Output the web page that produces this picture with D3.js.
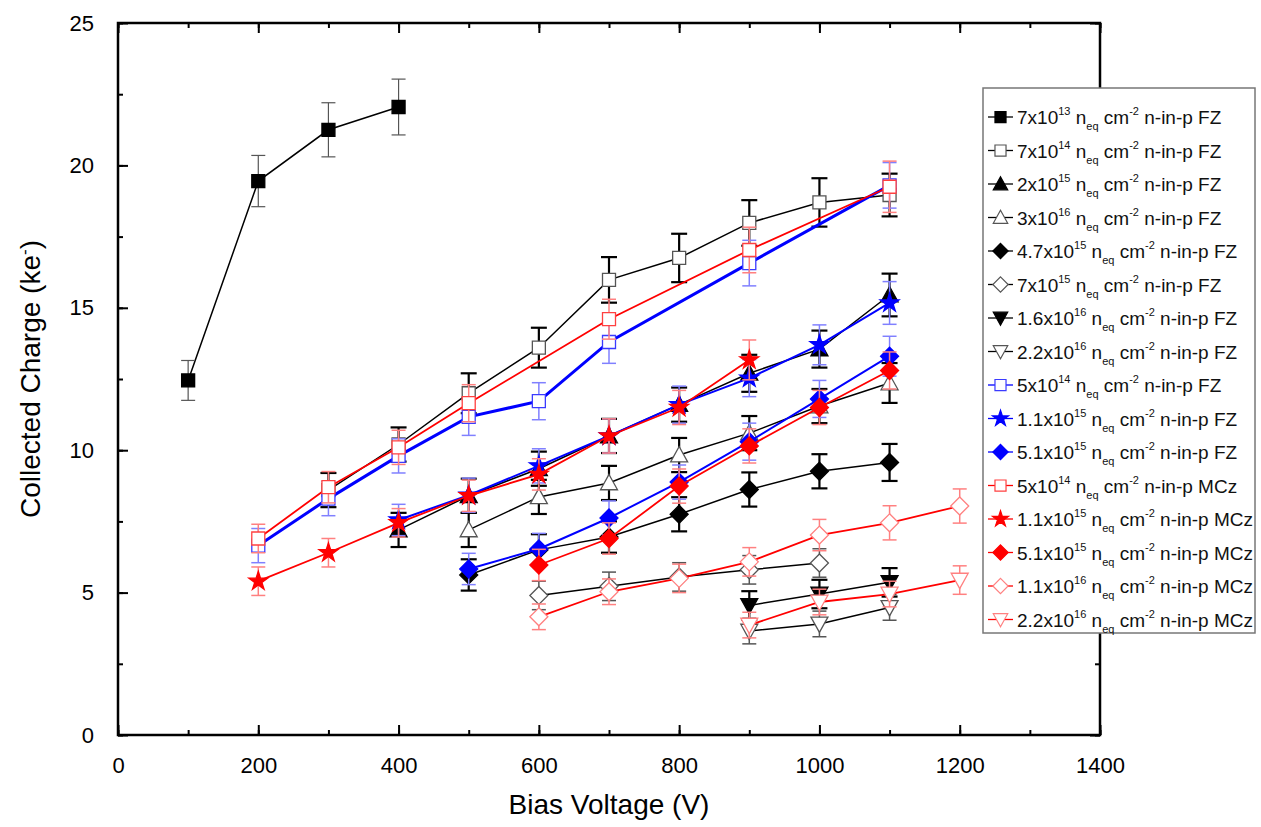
<!DOCTYPE html>
<html>
<head>
<meta charset="utf-8">
<script src="https://cdn.jsdelivr.net/npm/d3@7"></script>
<style>
  body { margin: 0; background: #fff; }
  text { font-family: "Liberation Sans", Arial, sans-serif; }
</style>
</head>
<body>
<div id="chart"></div>
<script>
var svgWidth = 1261;
var svgHeight = 827;

var margin = { top: 23, right: 161, bottom: 92, left: 118 };
var width = svgWidth - margin.left - margin.right;
var height = svgHeight - margin.top - margin.bottom;

// ---- data (bias voltage V, charge ke-, error ke-) ----
var fz7e13V = [100, 200, 300, 400];
var fz7e13Q = [12.45, 19.45, 21.25, 22.05];
var fz7e13E = [0.7, 0.9, 0.95, 0.98];

var fz7e14V = [300, 400, 500, 600, 700, 800, 900, 1000, 1100];
var fz7e14Q = [8.6, 10.2, 12.0, 13.6, 15.98, 16.75, 17.98, 18.7, 18.96];
var fz7e14E = [0.6, 0.6, 0.7, 0.7, 0.8, 0.85, 0.8, 0.85, 0.75];

var fz2e15V = [400, 500, 600, 700, 800, 900, 1000, 1100];
var fz2e15Q = [7.2, 8.4, 9.35, 10.5, 11.6, 12.7, 13.55, 15.45];
var fz2e15E = [0.6, 0.6, 0.6, 0.6, 0.6, 0.65, 0.65, 0.75];

var fz3e16V = [500, 600, 700, 800, 900, 1000, 1100];
var fz3e16Q = [7.2, 8.36, 8.85, 9.83, 10.6, 11.55, 12.36];
var fz3e16E = [0.6, 0.6, 0.6, 0.6, 0.6, 0.6, 0.7];

var fz47e15V = [500, 600, 700, 800, 900, 1000, 1100];
var fz47e15Q = [5.62, 6.5, 6.95, 7.75, 8.62, 9.26, 9.57];
var fz47e15E = [0.55, 0.55, 0.55, 0.6, 0.6, 0.6, 0.65];

var fz7e15V = [600, 700, 800, 900, 1000];
var fz7e15Q = [4.9, 5.22, 5.55, 5.8, 6.04];
var fz7e15E = [0.5, 0.5, 0.5, 0.5, 0.5];

var fz16e16V = [900, 1000, 1100];
var fz16e16Q = [4.55, 4.95, 5.36];
var fz16e16E = [0.5, 0.5, 0.5];

var fz22e16V = [900, 1000, 1100];
var fz22e16Q = [3.65, 3.9, 4.48];
var fz22e16E = [0.45, 0.45, 0.45];

var fz5e14V = [200, 300, 400, 500, 600, 700, 900, 1100];
var fz5e14Q = [6.65, 8.3, 9.8, 11.17, 11.72, 13.8, 16.57, 19.3];
var fz5e14E = [0.6, 0.6, 0.6, 0.65, 0.65, 0.75, 0.8, 0.8];

var fz11e15V = [400, 500, 600, 700, 800, 900, 1000, 1100];
var fz11e15Q = [7.55, 8.42, 9.45, 10.5, 11.6, 12.53, 13.7, 15.17];
var fz11e15E = [0.55, 0.6, 0.6, 0.6, 0.65, 0.65, 0.7, 0.75];

var fz51e15V = [500, 600, 700, 800, 900, 1000, 1100];
var fz51e15Q = [5.83, 6.53, 7.62, 8.88, 10.3, 11.8, 13.3];
var fz51e15E = [0.55, 0.55, 0.6, 0.6, 0.65, 0.65, 0.7];

var mcz5e14V = [200, 300, 400, 500, 700, 900, 1100];
var mcz5e14Q = [6.9, 8.7, 10.1, 11.65, 14.6, 17.03, 19.25];
var mcz5e14E = [0.5, 0.55, 0.6, 0.65, 0.7, 0.8, 0.9];

var mcz11e15V = [200, 300, 400, 500, 600, 700, 800, 900];
var mcz11e15Q = [5.4, 6.4, 7.45, 8.4, 9.15, 10.5, 11.5, 13.17];
var mcz11e15E = [0.5, 0.5, 0.5, 0.55, 0.55, 0.6, 0.6, 0.7];

var mcz51e15V = [600, 700, 800, 900, 1000, 1100];
var mcz51e15Q = [5.97, 6.9, 8.74, 10.15, 11.5, 12.8];
var mcz51e15E = [0.55, 0.55, 0.6, 0.6, 0.6, 0.65];

var mcz11e16V = [600, 700, 800, 900, 1000, 1100, 1200];
var mcz11e16Q = [4.15, 5.03, 5.5, 6.08, 7.02, 7.45, 8.04];
var mcz11e16E = [0.45, 0.45, 0.5, 0.5, 0.55, 0.6, 0.6];

var mcz22e16V = [900, 1000, 1100, 1200];
var mcz22e16Q = [3.86, 4.67, 4.95, 5.44];
var mcz22e16E = [0.45, 0.45, 0.45, 0.5];

// legend text pieces
var legendCoeff = ["7", "7", "2", "3", "4.7", "7", "1.6", "2.2", "5", "1.1", "5.1", "5", "1.1", "5.1", "1.1", "2.2"];
var legendExp = ["13", "14", "15", "16", "15", "15", "16", "16", "14", "15", "15", "14", "15", "15", "16", "16"];
var legendMat = ["FZ", "FZ", "FZ", "FZ", "FZ", "FZ", "FZ", "FZ", "FZ", "FZ", "FZ", "MCz", "MCz", "MCz", "MCz", "MCz"];

var xTicks = [0, 200, 400, 600, 800, 1000, 1200, 1400];
var yTicks = [0, 5, 10, 15, 20, 25];

// series styling (order = drawing order = legend order)
var seriesList = [
  { v: fz7e13V, q: fz7e13Q, e: fz7e13E, shape: "square", fill: "#000", stroke: "#000", line: "#000", lw: 1.5, err: "#555", ew: 1.2 },
  { v: fz7e14V, q: fz7e14Q, e: fz7e14E, shape: "square", fill: "#fff", stroke: "#555", line: "#000", lw: 1.5, err: "#000", ew: 2.2 },
  { v: fz2e15V, q: fz2e15Q, e: fz2e15E, shape: "tri", fill: "#000", stroke: "#000", line: "#000", lw: 1.5, err: "#000", ew: 2.2 },
  { v: fz3e16V, q: fz3e16Q, e: fz3e16E, shape: "tri", fill: "#fff", stroke: "#555", line: "#000", lw: 1.5, err: "#000", ew: 2.2 },
  { v: fz47e15V, q: fz47e15Q, e: fz47e15E, shape: "diamond", fill: "#000", stroke: "#000", line: "#000", lw: 1.5, err: "#000", ew: 2.2 },
  { v: fz7e15V, q: fz7e15Q, e: fz7e15E, shape: "diamond", fill: "#fff", stroke: "#555", line: "#000", lw: 1.5, err: "#555", ew: 1.5 },
  { v: fz16e16V, q: fz16e16Q, e: fz16e16E, shape: "tridown", fill: "#000", stroke: "#000", line: "#000", lw: 1.5, err: "#000", ew: 2.2 },
  { v: fz22e16V, q: fz22e16Q, e: fz22e16E, shape: "tridown", fill: "#fff", stroke: "#555", line: "#000", lw: 1.5, err: "#555", ew: 1.5 },
  { v: fz5e14V, q: fz5e14Q, e: fz5e14E, shape: "square", fill: "#fff", stroke: "#3b3bff", line: "#0000ff", lw: 3, err: "#8080ff", ew: 1.5 },
  { v: fz11e15V, q: fz11e15Q, e: fz11e15E, shape: "star", fill: "#0000ff", stroke: "#0000ff", line: "#0000ff", lw: 2, err: "#8080ff", ew: 1.5 },
  { v: fz51e15V, q: fz51e15Q, e: fz51e15E, shape: "diamond", fill: "#0000ff", stroke: "#0000ff", line: "#0000ff", lw: 2, err: "#8080ff", ew: 1.5 },
  { v: mcz5e14V, q: mcz5e14Q, e: mcz5e14E, shape: "square", fill: "#fff", stroke: "#ff4040", line: "#ff0000", lw: 1.8, err: "#ff8080", ew: 1.5 },
  { v: mcz11e15V, q: mcz11e15Q, e: mcz11e15E, shape: "star", fill: "#ff0000", stroke: "#ff0000", line: "#ff0000", lw: 1.8, err: "#ff8080", ew: 1.5 },
  { v: mcz51e15V, q: mcz51e15Q, e: mcz51e15E, shape: "diamond", fill: "#ff0000", stroke: "#ff0000", line: "#ff0000", lw: 1.8, err: "#ff8080", ew: 1.5 },
  { v: mcz11e16V, q: mcz11e16Q, e: mcz11e16E, shape: "diamond", fill: "#fff", stroke: "#ff8080", line: "#ff0000", lw: 1.8, err: "#ff8080", ew: 1.5 },
  { v: mcz22e16V, q: mcz22e16Q, e: mcz22e16E, shape: "tridown", fill: "#fff", stroke: "#ff8080", line: "#ff0000", lw: 1.8, err: "#ff8080", ew: 1.5 }
];

// marker path centered on 0,0
function markerPath(shape, k) {
  k = k || 1;
  if (shape === "square") {
    var h = 6.5 * k;
    return `M${-h},${-h}H${h}V${h}H${-h}Z`;
  } else if (shape === "diamond") {
    var d = 9 * k;
    return `M0,${-d}L${d},0L0,${d}L${-d},0Z`;
  } else if (shape === "tri") {
    var t = 8.5 * k;
    return `M0,${-t}L${t},${t * 0.8}L${-t},${t * 0.8}Z`;
  } else if (shape === "tridown") {
    var t2 = 8.5 * k;
    return `M0,${t2}L${t2},${-t2 * 0.8}L${-t2},${-t2 * 0.8}Z`;
  }
  return d3.symbol(d3.symbolStar, 110 * k * k)();
}

var svg = d3.select("#chart")
  .append("svg")
  .attr("width", svgWidth)
  .attr("height", svgHeight);

var chartGroup = svg.append("g")
  .attr("transform", `translate(${margin.left}, ${margin.top})`);

var xScale = d3.scaleLinear().domain([0, 1400]).range([0, width]);
var yScale = d3.scaleLinear().domain([0, 25]).range([height, 0]);

// axes with inward ticks on all four sides
var minorX = d3.range(0, 1401, 100);
var minorY = d3.range(0, 25.01, 2.5);

function styleAxis(g) {
  g.select(".domain").remove();
  g.selectAll(".tick line").attr("stroke", "#000").attr("stroke-width", 2);
  g.selectAll("text").attr("fill", "#000");
}

chartGroup.append("g")
  .attr("transform", `translate(0,${height})`)
  .call(d3.axisBottom(xScale).tickValues(minorX).tickSize(-5).tickFormat(""))
  .call(styleAxis);
chartGroup.append("g")
  .attr("transform", `translate(0,${height})`)
  .call(d3.axisBottom(xScale).tickValues(xTicks).tickSize(-10).tickPadding(22).tickFormat(d3.format("d")))
  .call(styleAxis)
  .selectAll("text").style("font-size", "22px");

chartGroup.append("g")
  .call(d3.axisTop(xScale).tickValues(minorX).tickSize(-5).tickFormat(""))
  .call(styleAxis);
chartGroup.append("g")
  .call(d3.axisTop(xScale).tickValues(xTicks).tickSize(-10).tickFormat(""))
  .call(styleAxis);

chartGroup.append("g")
  .call(d3.axisLeft(yScale).tickValues(minorY).tickSize(-5).tickFormat(""))
  .call(styleAxis);
chartGroup.append("g")
  .call(d3.axisLeft(yScale).tickValues(yTicks).tickSize(-10).tickPadding(24).tickFormat(d3.format("d")))
  .call(styleAxis)
  .selectAll("text").style("font-size", "22px");

chartGroup.append("g")
  .attr("transform", `translate(${width},0)`)
  .call(d3.axisRight(yScale).tickValues(minorY).tickSize(-5).tickFormat(""))
  .call(styleAxis);
chartGroup.append("g")
  .attr("transform", `translate(${width},0)`)
  .call(d3.axisRight(yScale).tickValues(yTicks).tickSize(-10).tickFormat(""))
  .call(styleAxis);

chartGroup.append("rect")
  .attr("width", width)
  .attr("height", height)
  .attr("fill", "none")
  .attr("stroke", "#000")
  .attr("stroke-width", 2.5);

// series
var line = d3.line().x(d => xScale(d.v)).y(d => yScale(d.q));

seriesList.forEach(function(s) {
  var pts = s.v.map((v, i) => ({ v: v, q: s.q[i], e: s.e[i] }));
  var g = chartGroup.append("g");

  g.append("path")
    .datum(pts)
    .attr("d", line)
    .attr("fill", "none")
    .attr("stroke", s.line)
    .attr("stroke-width", s.lw);

  var eb = g.selectAll(".eb").data(pts).enter().append("g");
  var cap = s.ew > 2 ? 8 : 7;
  eb.append("line")
    .attr("x1", d => xScale(d.v)).attr("x2", d => xScale(d.v))
    .attr("y1", d => yScale(d.q + d.e)).attr("y2", d => yScale(d.q - d.e))
    .attr("stroke", s.err).attr("stroke-width", s.ew);
  eb.append("line")
    .attr("x1", d => xScale(d.v) - cap).attr("x2", d => xScale(d.v) + cap)
    .attr("y1", d => yScale(d.q + d.e)).attr("y2", d => yScale(d.q + d.e))
    .attr("stroke", s.err).attr("stroke-width", s.ew);
  eb.append("line")
    .attr("x1", d => xScale(d.v) - cap).attr("x2", d => xScale(d.v) + cap)
    .attr("y1", d => yScale(d.q - d.e)).attr("y2", d => yScale(d.q - d.e))
    .attr("stroke", s.err).attr("stroke-width", s.ew);

  g.selectAll(".mk").data(pts).enter().append("path")
    .attr("d", markerPath(s.shape))
    .attr("transform", d => `translate(${xScale(d.v)},${yScale(d.q)})`)
    .attr("fill", s.fill)
    .attr("stroke", s.stroke)
    .attr("stroke-width", 1.3);
});

// axis titles
svg.append("text")
  .attr("x", margin.left + width / 2)
  .attr("y", 814)
  .attr("text-anchor", "middle")
  .style("font-size", "28px")
  .text("Bias Voltage (V)");

var yTitle = svg.append("text")
  .attr("transform", `translate(40,${margin.top + height / 2}) rotate(-90)`)
  .attr("text-anchor", "middle")
  .style("font-size", "28px");
yTitle.append("tspan").text("Collected Charge (ke");
yTitle.append("tspan").attr("dy", -10).style("font-size", "17px").text("-");
yTitle.append("tspan").attr("dy", 10).text(")");

// legend
var legX = 983, legY = 88, legW = 272, legH = 545;
var legStep = 33.5;
var legend = svg.append("g");
legend.append("rect")
  .attr("x", legX).attr("y", legY)
  .attr("width", legW).attr("height", legH)
  .attr("fill", "#fff")
  .attr("stroke", "#777")
  .attr("stroke-width", 1.5);

seriesList.forEach(function(s, i) {
  var cy = legY + 29 + i * legStep;
  var item = legend.append("g");
  item.append("line")
    .attr("x1", legX + 5).attr("x2", legX + 30)
    .attr("y1", cy).attr("y2", cy)
    .attr("stroke", s.line).attr("stroke-width", 1.3);
  item.append("path")
    .attr("d", markerPath(s.shape, 0.85))
    .attr("transform", `translate(${legX + 17.5},${cy})`)
    .attr("fill", s.fill)
    .attr("stroke", s.stroke)
    .attr("stroke-width", 1.2);
  var t = item.append("text")
    .attr("x", legX + 34)
    .attr("y", cy + 7)
    .style("font-size", "19px")
    .attr("fill", "#111");
  t.append("tspan").text(legendCoeff[i] + "x10");
  t.append("tspan").attr("dy", -9).style("font-size", "11px").text(legendExp[i]);
  t.append("tspan").attr("dy", 9).text(" n");
  t.append("tspan").attr("dy", 6).style("font-size", "11px").text("eq");
  t.append("tspan").attr("dy", -6).text(" cm");
  t.append("tspan").attr("dy", -9).style("font-size", "11px").text("-2");
  t.append("tspan").attr("dy", 9).text(" n-in-p " + legendMat[i]);
});
</script>
</body>
</html>
